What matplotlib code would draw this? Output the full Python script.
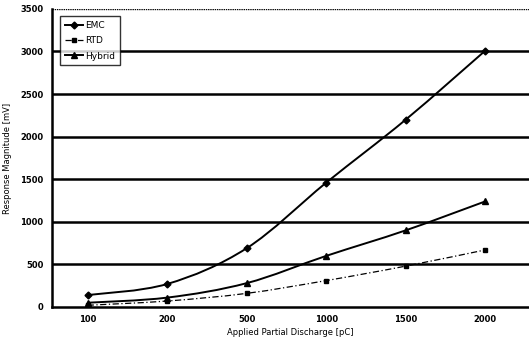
import matplotlib
matplotlib.use("Agg")
import matplotlib.pyplot as plt
from matplotlib.path import Path
from matplotlib.patches import PathPatch
from matplotlib.lines import Line2D
import numpy as np

categories = ["100", "200", "500", "1000", "1500", "2000"]
emc = [140, 270, 690, 1460, 2200, 3010]
rtd = [20, 70, 160, 310, 480, 670]
hybrid = [50, 110, 280, 600, 900, 1240]
yticks = [0, 500, 1000, 1500, 2000, 2500, 3000, 3500]


def smooth_path(xs, ys):
    pts = np.column_stack([xs, ys]).astype(float)
    n = len(pts)
    verts = [pts[0]]
    codes = [Path.MOVETO]
    for i in range(n - 1):
        p0 = pts[i - 1] if i > 0 else pts[i]
        p1 = pts[i]
        p2 = pts[i + 1]
        p3 = pts[i + 2] if i + 2 < n else pts[i + 1]
        c1 = p1 + (p2 - p0) / 6.0
        c2 = p2 - (p3 - p1) / 6.0
        verts += [c1, c2, p2]
        codes += [Path.CURVE4] * 3
    return Path(verts, codes)


fig = plt.figure(figsize=(5.29, 3.43), dpi=100)
ax = fig.add_axes([0.098, 0.105, 0.902, 0.869])
x = np.arange(len(categories))

for y in yticks[1:]:
    ax.axhline(y, color="black", lw=1.8 if y < 3500 else 1.0,
               ls="-" if y < 3500 else (0, (1, 0.6)), zorder=1)

series = [
    ("EMC", emc, dict(lw=1.4, ls="-"), dict(marker="D", ms=3.5)),
    ("RTD", rtd, dict(lw=0.9, ls=(0, (5, 2, 1, 2))), dict(marker="s", ms=3)),
    ("Hybrid", hybrid, dict(lw=1.4, ls="-"), dict(marker="^", ms=4.5)),
]
handles = []
for name, vals, lstyle, mstyle in series:
    patch = PathPatch(smooth_path(x, vals), fill=False, edgecolor="black",
                      linewidth=lstyle["lw"], linestyle=lstyle["ls"], zorder=3)
    ax.add_patch(patch)
    ax.plot(x, vals, color="black", ls="none", zorder=4, **mstyle)
    handles.append(Line2D([], [], color="black", lw=lstyle["lw"], ls=lstyle["ls"],
                          label=name, **mstyle))

ax.set_xlim(-0.45, 5.55)
ax.set_ylim(0, 3500)
ax.set_xticks(x)
ax.set_xticklabels(categories)
ax.set_yticks(yticks)
ax.tick_params(axis="both", labelsize=6, length=0, pad=6)
for lab in ax.get_xticklabels() + ax.get_yticklabels():
    lab.set_fontweight("bold")
ax.spines["top"].set_visible(False)
ax.spines["right"].set_visible(False)
ax.spines["left"].set_linewidth(1.8)
ax.spines["bottom"].set_linewidth(1.8)
ax.set_xlabel("Applied Partial Discharge [pC]", fontsize=6, labelpad=3)
ax.set_ylabel("Response Magnitude [mV]", fontsize=6, labelpad=6)

leg = ax.legend(handles=handles, loc="upper left", fontsize=6.5, frameon=True,
                fancybox=False, edgecolor="black", borderpad=0.5, handlelength=2.0,
                handletextpad=0.3, bbox_to_anchor=(0.008, 0.99), labelspacing=0.7)
leg.get_frame().set_linewidth(1.0)

fig.savefig("out.png", dpi=100)
